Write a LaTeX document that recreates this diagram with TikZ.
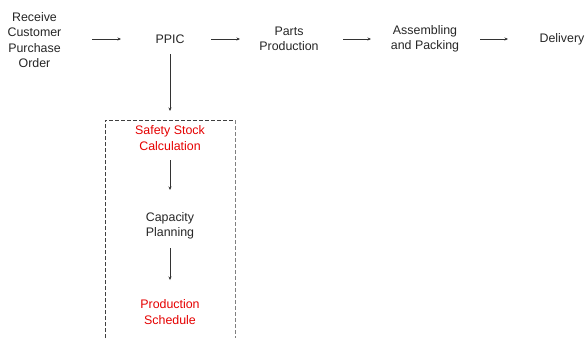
\documentclass[tikz,border=0pt]{standalone}
\usepackage{fontspec}
\setmainfont{Liberation Sans}
\usetikzlibrary{arrows.meta}
\begin{document}
\begin{tikzpicture}[x=1pt,y=-1pt,
  lbl/.style={align=center,inner sep=1pt,font=\fontsize{12.4}{15.5}\selectfont,text=black!85},
  redlbl/.style={lbl,text=red!90!black},
  flow/.style={draw=black!80,line width=0.7pt,-{Stealth[length=3.5pt,width=3pt]}},
  frameline/.style={dash pattern=on 4pt off 2pt,line width=0.7pt}]
\useasboundingbox (0,0) rectangle (585,338);
% main process row
\node[lbl] (order) at (34.5,40) {Receive\\Customer\\Purchase\\Order};
\node[lbl] (ppic) at (170,39) {PPIC};
\node[lbl] (parts) at (289,39) {Parts\\Production};
\node[lbl] (assy) at (425,39) {Assembling\\and Packing};
\node[lbl] (deliv) at (562,39) {Delivery};
% PPIC detail steps
\node[redlbl] (safety) at (170,138) {Safety Stock\\Calculation};
\node[lbl] (cap) at (170,226) {Capacity\\Planning};
\node[redlbl] (sched) at (170,312) {Production\\Schedule};
% dashed frame round the PPIC steps (open at the bottom)
\coordinate (frameTL) at (105,120);
\coordinate (frameTR) at (235,120);
\coordinate (frameBL) at (105,338);
\coordinate (frameBR) at (235,338);
\draw[frameline,black!75] (frameBL) -- (frameTL) -- (frameTR);
\draw[frameline,black!50] (frameTR) -- (frameBR);
% connectors between the steps
\draw[flow] (order) ++(57.5,-1) -- ++(29,0);
\draw[flow] (ppic) ++(41,0) -- ++(29,0);
\draw[flow] (parts) ++(54,0) -- ++(28,0);
\draw[flow] (assy) ++(55,0) -- ++(28,0);
\draw[flow] (ppic) ++(0,15) -- ++(0,57);
\draw[flow] (safety) ++(0,22) -- ++(0,30);
\draw[flow] (cap) ++(0,22) -- ++(0,32);
\end{tikzpicture}
\end{document}
